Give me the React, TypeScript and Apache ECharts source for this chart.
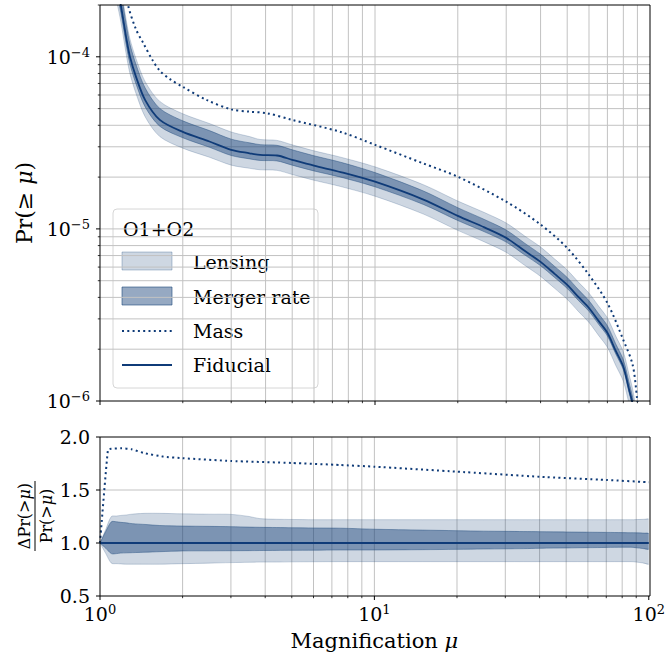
import React, { useEffect, useRef } from 'react';
import * as echarts from 'echarts';

// ---------- data ----------
// Magnification samples (shared by fiducial curve and uncertainty ratios)
const X = [1.0, 1.05, 1.1, 1.15, 1.19, 1.25, 1.285, 1.35, 1.46, 1.65, 2.0, 2.5, 3.0, 3.5, 3.82, 4.4, 5.0, 6.0, 7.5, 10, 15, 20, 25, 30, 35, 40, 45, 50, 55, 60, 65, 70, 75, 80, 84, 86, 88, 90, 95, 100];
// Fiducial Pr(>= mu)
const FID = [1.2e-3, 6.0e-4, 3.6e-4, 2.6e-4, 2.0e-4, 1.25e-4, 1.0e-4, 7.7e-5, 5.6e-5, 4.3e-5, 3.66e-5, 3.22e-5, 2.88e-5, 2.75e-5, 2.69e-5, 2.67e-5, 2.52e-5, 2.33e-5, 2.14e-5, 1.88e-5, 1.48e-5, 1.19e-5, 1.02e-5, 8.87e-6, 7.46e-6, 6.43e-6, 5.48e-6, 4.73e-6, 4.01e-6, 3.47e-6, 2.92e-6, 2.49e-6, 1.96e-6, 1.58e-6, 1.16e-6, 1.0e-6, 0.82e-6, 0.6e-6, 0.3e-6, 0.1e-6];
// Ratios to fiducial: merger-rate band (dark) and lensing band (light)
const MERGER_HI = [1.0, 1.11, 1.2, 1.2, 1.195, 1.19, 1.185, 1.18, 1.175, 1.165, 1.16, 1.157, 1.154, 1.15, 1.148, 1.146, 1.144, 1.142, 1.14, 1.13, 1.122, 1.116, 1.112, 1.11, 1.108, 1.107, 1.105, 1.104, 1.103, 1.102, 1.101, 1.1, 1.099, 1.098, 1.097, 1.097, 1.097, 1.096, 1.094, 1.09];
const MERGER_LO = [1.0, 0.95, 0.9, 0.9, 0.905, 0.907, 0.908, 0.91, 0.913, 0.918, 0.925, 0.926, 0.927, 0.928, 0.929, 0.93, 0.931, 0.932, 0.934, 0.934, 0.937, 0.94, 0.943, 0.945, 0.947, 0.95, 0.952, 0.953, 0.955, 0.956, 0.957, 0.958, 0.959, 0.96, 0.96, 0.96, 0.958, 0.955, 0.948, 0.94];
const LENS_HI = [1.0, 1.13, 1.25, 1.255, 1.26, 1.265, 1.27, 1.275, 1.28, 1.28, 1.275, 1.272, 1.27, 1.25, 1.23, 1.224, 1.222, 1.22, 1.22, 1.22, 1.22, 1.22, 1.22, 1.22, 1.22, 1.22, 1.22, 1.22, 1.22, 1.22, 1.22, 1.22, 1.22, 1.22, 1.22, 1.22, 1.22, 1.221, 1.223, 1.226];
const LENS_LO = [1.0, 0.9, 0.81, 0.805, 0.803, 0.8, 0.8, 0.8, 0.8, 0.8, 0.805, 0.81, 0.815, 0.818, 0.82, 0.82, 0.822, 0.823, 0.824, 0.824, 0.824, 0.824, 0.824, 0.824, 0.824, 0.824, 0.824, 0.824, 0.824, 0.824, 0.824, 0.824, 0.824, 0.824, 0.824, 0.824, 0.823, 0.82, 0.812, 0.8];
// Mass variation curve (top panel)
const MASS_X = [1.2, 1.264, 1.35, 1.433, 1.55, 1.65, 1.8, 2.0, 2.45, 3.0, 3.5, 4.05, 5.0, 7.5, 10, 15, 20, 30, 40, 50, 60, 70, 80, 86.5, 89.7, 92];
const MASS = [3.2e-4, 2.0e-4, 1.45e-4, 1.21e-4, 9.6e-5, 8.3e-5, 7.4e-5, 6.69e-5, 5.6e-5, 4.95e-5, 4.8e-5, 4.7e-5, 4.3e-5, 3.66e-5, 3.08e-5, 2.4e-5, 2.01e-5, 1.44e-5, 1.06e-5, 7.75e-6, 5.4e-6, 3.71e-6, 2.26e-6, 1.62e-6, 1.04e-6, 0.7e-6];
// Mass ratio curve (bottom panel)
const MASS_RATIO_X = [1.0, 1.069, 1.1, 1.2, 1.3, 1.46, 1.7, 2.0, 3.0, 5.0, 7.5, 10, 20, 40, 70, 100];
const MASS_RATIO = [1.0, 1.88, 1.89, 1.893, 1.885, 1.846, 1.815, 1.8, 1.774, 1.755, 1.736, 1.72, 1.673, 1.625, 1.595, 1.573];
// Fiducial ratio line
const FID_RATIO_X = [1, 100];
const FID_RATIO = [1, 1];

// ticks / grid positions
const X_TICKS = [1, 2, 3, 4, 5, 6, 7, 8, 9, 10, 20, 30, 40, 50, 60, 70, 80, 90, 100];
const Y_TICKS_TOP = [1e-6, 2e-6, 3e-6, 4e-6, 5e-6, 6e-6, 7e-6, 8e-6, 9e-6, 1e-5, 2e-5, 3e-5, 4e-5, 5e-5, 6e-5, 7e-5, 8e-5, 9e-5, 1e-4, 2e-4];
const Y_TICKS_BOTTOM = [0.5, 1.0, 1.5, 2.0];

const X_MIN = 1, X_MAX = 100;
const YT_MIN = 1e-6, YT_MAX = 2e-4;
const YB_MIN = 0.5, YB_MAX = 2.0;

// ---------- style ----------
const SERIF = '"DejaVu Serif", "Liberation Serif", serif';
const LINE = '#0f3b78';
const LIGHT = 'rgba(31,73,125,0.22)';
const LIGHT_EDGE = 'rgba(31,73,125,0.28)';
const DARK = 'rgba(31,73,125,0.47)';
const DARK_EDGE = 'rgba(31,73,125,0.55)';
const GRIDC = '#c2c2c2';
const FS = 19;

const isDecade = (v: number) => Math.abs(Math.log10(v) - Math.round(Math.log10(v))) < 1e-9;

function bandSeries(ax: number, xs: number[], lo: number[], hi: number[], fill: string, edge: string, z: number) {
  return {
    type: 'custom',
    xAxisIndex: ax,
    yAxisIndex: ax,
    z,
    silent: true,
    data: [[xs[0], lo[0]]],
    renderItem: (params: any, api: any) => {
      const top: number[][] = [];
      const bot: number[][] = [];
      for (let i = 0; i < xs.length; i++) top.push(api.coord([xs[i], hi[i]]));
      for (let i = xs.length - 1; i >= 0; i--) bot.push(api.coord([xs[i], lo[i]]));
      const cs = params.coordSys;
      const clip = { type: 'rect', shape: { x: cs.x, y: cs.y, width: cs.width, height: cs.height } };
      return {
        type: 'group',
        clipPath: clip,
        children: [
          { type: 'polygon', shape: { points: top.concat(bot), smooth: 0.3 }, style: { fill, stroke: 'none' } },
          { type: 'polyline', shape: { points: top, smooth: 0.3 }, style: { fill: 'none', stroke: edge, lineWidth: 0.8 } },
          { type: 'polyline', shape: { points: bot, smooth: 0.3 }, style: { fill: 'none', stroke: edge, lineWidth: 0.8 } },
        ],
      };
    },
  };
}

function xGridSeries(ax: number, yRef: number) {
  return {
    type: 'custom',
    xAxisIndex: ax,
    yAxisIndex: ax,
    z: 1,
    silent: true,
    data: X_TICKS.map((v) => [v, yRef]),
    renderItem: (params: any, api: any) => {
      const v = api.value(0);
      const cs = params.coordSys;
      const px = api.coord([v, yRef])[0];
      const major = isDecade(v);
      const children: any[] = [];
      if (v !== X_MIN && v !== X_MAX) {
        children.push({ type: 'line', shape: { x1: px, y1: cs.y, x2: px, y2: cs.y + cs.height }, style: { stroke: GRIDC, lineWidth: 1 } });
      }
      children.push({ type: 'line', shape: { x1: px, y1: cs.y + cs.height, x2: px, y2: cs.y + cs.height + (major ? 4 : 2.2) }, style: { stroke: '#000', lineWidth: major ? 1 : 0.8 } });
      return { type: 'group', children };
    },
  };
}

function yGridSeries(ax: number, ticks: number[], yMin: number, yMax: number, logMajor: boolean) {
  return {
    type: 'custom',
    xAxisIndex: ax,
    yAxisIndex: ax,
    z: 1,
    silent: true,
    data: ticks.map((v) => [X_MIN, v]),
    renderItem: (params: any, api: any) => {
      const v = api.value(1);
      const cs = params.coordSys;
      const py = api.coord([X_MIN, v])[1];
      const major = logMajor ? isDecade(v) : true;
      const children: any[] = [];
      if (v !== yMin && v !== yMax) {
        children.push({ type: 'line', shape: { x1: cs.x, y1: py, x2: cs.x + cs.width, y2: py }, style: { stroke: GRIDC, lineWidth: 1 } });
      }
      children.push({ type: 'line', shape: { x1: cs.x - (major ? 4 : 2.2), y1: py, x2: cs.x, y2: py }, style: { stroke: '#000', lineWidth: major ? 1 : 0.8 } });
      return { type: 'group', children };
    },
  };
}

const mul = (a: number[], b: number[]) => a.map((v, i) => v * b[i]);
const pairs = (xs: number[], ys: number[]) => xs.map((x, i) => [x, ys[i]]);

const supRich = {
  b: { fontFamily: SERIF, fontSize: FS, color: '#000', lineHeight: 22 },
  s: { fontFamily: SERIF, fontSize: 13, color: '#000', lineHeight: 13, verticalAlign: 'top' },
};

const xNameRich = {
  a: { fontFamily: SERIF, fontSize: 21, color: '#000' },
  i: { fontFamily: SERIF, fontSize: 21, color: '#000', fontStyle: 'italic' },
};
const yNameRich = {
  a: { fontFamily: SERIF, fontSize: 22, color: '#000' },
  i: { fontFamily: SERIF, fontSize: 22, color: '#000', fontStyle: 'italic' },
};
const fracRich = {
  a: { fontFamily: SERIF, fontSize: 16, fill: '#000' },
  i: { fontFamily: SERIF, fontSize: 16, fill: '#000', fontStyle: 'italic' },
};

const GL = { x: 100, y: 5, w: 550, h: 396 };
const GB = { x: 100, y: 437, w: 550, h: 159 };

function buildOption() {
  const legendX = 113, legendY = 209;
  const lt = (x: number, y: number, text: string) => ({ type: 'text', x, y, style: { text, fontFamily: SERIF, fontSize: FS, fill: '#000', verticalAlign: 'middle' } });
  return {
    animation: false,
    backgroundColor: '#fff',
    grid: [
      { left: GL.x, top: GL.y, width: GL.w, height: GL.h, containLabel: false },
      { left: GB.x, top: GB.y, width: GB.w, height: GB.h, containLabel: false },
    ],
    xAxis: [
      {
        type: 'log', logBase: 10, gridIndex: 0, min: X_MIN, max: X_MAX,
        axisLine: { show: false }, axisTick: { show: false }, axisLabel: { show: false },
        splitLine: { show: false }, minorTick: { show: false },
      },
      {
        type: 'log', logBase: 10, gridIndex: 1, min: X_MIN, max: X_MAX,
        axisLine: { show: false }, axisTick: { show: false },
        axisLabel: {
          show: true, margin: 7, showMinLabel: true, showMaxLabel: true,
          formatter: (v: number) => `{b|10}{s|${Math.round(Math.log10(v))}}`,
          rich: supRich,
        },
        splitLine: { show: false },
        name: '{a|Magnification }{i|μ}',
        nameLocation: 'middle',
        nameGap: 34,
        nameTextStyle: { rich: xNameRich },
      },
    ],
    yAxis: [
      {
        type: 'log', logBase: 10, gridIndex: 0, min: YT_MIN, max: YT_MAX,
        axisLine: { show: false }, axisTick: { show: false },
        axisLabel: {
          show: true, margin: 10, showMaxLabel: false,
          formatter: (v: number) => `{b|10}{s|−${Math.abs(Math.round(Math.log10(v)))}}`,
          rich: supRich,
        },
        splitLine: { show: false },
        name: '{a|Pr(≥ }{i|μ}{a|)}',
        nameLocation: 'middle',
        nameRotate: 90,
        nameGap: 61,
        nameTextStyle: { rich: yNameRich },
      },
      {
        type: 'value', gridIndex: 1, min: YB_MIN, max: YB_MAX, interval: 0.5,
        axisLine: { show: false }, axisTick: { show: false },
        axisLabel: {
          show: true, margin: 10, fontFamily: SERIF, fontSize: FS, color: '#000',
          formatter: (v: number) => v.toFixed(1),
        },
        splitLine: { show: false },
      },
    ],
    series: [
      xGridSeries(0, YT_MIN),
      yGridSeries(0, Y_TICKS_TOP, YT_MIN, YT_MAX, true),
      xGridSeries(1, YB_MIN),
      yGridSeries(1, Y_TICKS_BOTTOM, YB_MIN, YB_MAX, false),
      // top panel bands
      bandSeries(0, X, mul(FID, LENS_LO), mul(FID, LENS_HI), LIGHT, LIGHT_EDGE, 2),
      bandSeries(0, X, mul(FID, MERGER_LO), mul(FID, MERGER_HI), DARK, DARK_EDGE, 3),
      // bottom panel bands
      bandSeries(1, X, LENS_LO, LENS_HI, LIGHT, LIGHT_EDGE, 2),
      bandSeries(1, X, MERGER_LO, MERGER_HI, DARK, DARK_EDGE, 3),
      {
        type: 'line', xAxisIndex: 0, yAxisIndex: 0, z: 4, silent: true,
        data: pairs(X, FID), showSymbol: false, smooth: 0.3, clip: true,
        lineStyle: { color: LINE, width: 1.8 },
      },
      {
        type: 'line', xAxisIndex: 0, yAxisIndex: 0, z: 4, silent: true,
        data: pairs(MASS_X, MASS), showSymbol: false, smooth: 0.3, clip: true,
        lineStyle: { color: LINE, width: 2, type: [2, 3.3] },
      },
      {
        type: 'line', xAxisIndex: 1, yAxisIndex: 1, z: 4, silent: true,
        data: pairs(FID_RATIO_X, FID_RATIO), showSymbol: false, clip: true,
        lineStyle: { color: LINE, width: 1.8 },
      },
      {
        type: 'line', xAxisIndex: 1, yAxisIndex: 1, z: 4, silent: true,
        data: pairs(MASS_RATIO_X, MASS_RATIO), showSymbol: false, smooth: 0.15, clip: true,
        lineStyle: { color: LINE, width: 2, type: [2, 3.3] },
      },
    ],
    graphic: [
      // frames
      { type: 'rect', z: 50, silent: true, shape: { x: GL.x, y: GL.y, width: GL.w, height: GL.h }, style: { fill: 'none', stroke: '#000', lineWidth: 1 } },
      { type: 'rect', z: 50, silent: true, shape: { x: GB.x, y: GB.y, width: GB.w, height: GB.h }, style: { fill: 'none', stroke: '#000', lineWidth: 1 } },
      // bottom y label (fraction)
      {
        type: 'group', x: 35, y: 516, rotation: Math.PI / 2, z: 50, silent: true,
        children: [
          { type: 'text', x: 0, y: -11, style: { text: '{a|ΔPr(>}{i|μ}{a|)}', align: 'center', verticalAlign: 'middle', rich: fracRich } },
          { type: 'line', shape: { x1: -35, y1: 0, x2: 35, y2: 0 }, style: { stroke: '#000', lineWidth: 1 } },
          { type: 'text', x: 0, y: 11, style: { text: '{a|Pr(>}{i|μ}{a|)}', align: 'center', verticalAlign: 'middle', rich: fracRich } },
        ],
      },
      // legend
      {
        type: 'group', x: legendX, y: legendY, z: 60, silent: true,
        children: [
          { type: 'rect', shape: { x: 0, y: 0, width: 205, height: 179, r: 4 }, style: { fill: 'rgba(255,255,255,0.8)', stroke: '#d6d6d6', lineWidth: 1 } },
          lt(10, 20, 'O1+O2'),
          { type: 'rect', shape: { x: 9, y: 43, width: 50, height: 18 }, style: { fill: LIGHT, stroke: 'rgba(31,73,125,0.3)', lineWidth: 1 } },
          lt(80, 53, 'Lensing'),
          { type: 'rect', shape: { x: 9, y: 78, width: 50, height: 18 }, style: { fill: DARK, stroke: 'rgba(31,73,125,0.6)', lineWidth: 1 } },
          lt(80, 88, 'Merger rate'),
          { type: 'line', shape: { x1: 9, y1: 122, x2: 59, y2: 122 }, style: { stroke: LINE, lineWidth: 2, lineDash: [2, 3.3] } },
          lt(80, 122, 'Mass'),
          { type: 'line', shape: { x1: 9, y1: 156, x2: 59, y2: 156 }, style: { stroke: LINE, lineWidth: 1.8 } },
          lt(80, 156, 'Fiducial'),
        ],
      },
    ],
  };
}

export default function App() {
  const ref = useRef<HTMLDivElement>(null);
  useEffect(() => {
    document.body.style.margin = '0';
    const chart = echarts.init(ref.current!, null, { renderer: 'svg' });
    chart.setOption(buildOption() as any);
    return () => chart.dispose();
  }, []);
  return <div ref={ref} style={{ width: 668, height: 664 }} />;
}
